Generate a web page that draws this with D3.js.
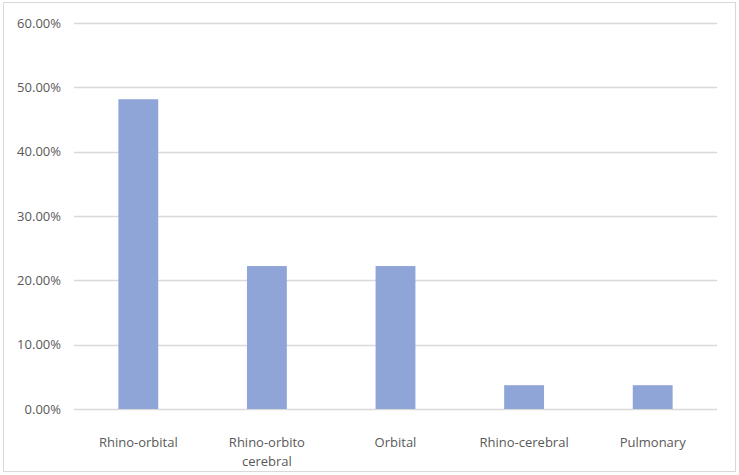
<!DOCTYPE html>
<html>
<head>
  <meta charset="utf-8">
  <title>bar chart</title>
  <style>
    body { margin: 0; background: #fff; }
    text { font-family: "Open Sans", sans-serif; fill: #595959; }
  </style>
</head>
<body>
  <div id="chart"></div>
  <script src="https://cdn.jsdelivr.net/npm/d3@7"></script>
  <script type="text/javascript">
    var categories = ["Rhino-orbital", "Rhino-orbito cerebral", "Orbital", "Rhino-cerebral", "Pulmonary"];
    var values = [0.4815, 0.2222, 0.2222, 0.037, 0.037];
    var yTicks = [0, 0.1, 0.2, 0.3, 0.4, 0.5, 0.6];

    var w = 739;
    var h = 475;
    var plotLeft = 74, plotRight = 717, plotTop = 23, plotBottom = 409;

    var svg = d3.select("#chart")
      .append("svg")
      .attr("width", w)
      .attr("height", h);

    // outer frame
    svg.append("rect")
      .attr("x", 3.5).attr("y", 2.5)
      .attr("width", 732).attr("height", 469)
      .attr("fill", "none")
      .attr("stroke", "#d9d9d9");

    var x = d3.scaleBand()
      .domain(categories)
      .range([plotLeft, plotRight])
      .paddingInner(0.69)
      .paddingOuter(0.345);

    var y = d3.scaleLinear()
      .domain([0, 0.6])
      .range([plotBottom, plotTop]);

    // gridlines
    svg.selectAll("line.grid")
      .data(yTicks)
      .enter()
      .append("line")
      .attr("class", "grid")
      .attr("x1", plotLeft)
      .attr("x2", plotRight)
      .attr("y1", function(d) { return Math.round(y(d)) + 0.5; })
      .attr("y2", function(d) { return Math.round(y(d)) + 0.5; })
      .attr("stroke", "#d9d9d9")
      .attr("stroke-width", 1.3);

    svg.selectAll("text.ytick")
      .data(yTicks)
      .enter()
      .append("text")
      .attr("class", "ytick")
      .attr("x", 61)
      .attr("y", function(d) { return y(d); })
      .attr("dy", "0.35em")
      .attr("text-anchor", "end")
      .style("font-size", "13px")
      .text(function(d) { return (d * 100).toFixed(2) + "%"; });

    svg.selectAll("rect.bar")
      .data(values)
      .enter()
      .append("rect")
      .attr("class", "bar")
      .attr("x", function(d, i) { return x(categories[i]); })
      .attr("y", function(d) { return y(d); })
      .attr("width", x.bandwidth())
      .attr("height", function(d) { return y(0) - y(d); })
      .attr("fill", "#8fa5d8");

    // category labels, wrapped on the second word where needed
    var labels = svg.selectAll("text.xlab")
      .data(categories)
      .enter()
      .append("text")
      .attr("class", "xlab")
      .attr("text-anchor", "middle")
      .style("font-size", "13px");

    labels.each(function(d) {
      var parts = d === "Rhino-orbito cerebral" ? ["Rhino-orbito", "cerebral"] : [d];
      var t = d3.select(this);
      parts.forEach(function(p, j) {
        t.append("tspan")
          .attr("x", x(d) + x.bandwidth() / 2)
          .attr("y", 446.5 + j * 19)
          .text(p);
      });
    });
  </script>
</body>
</html>
